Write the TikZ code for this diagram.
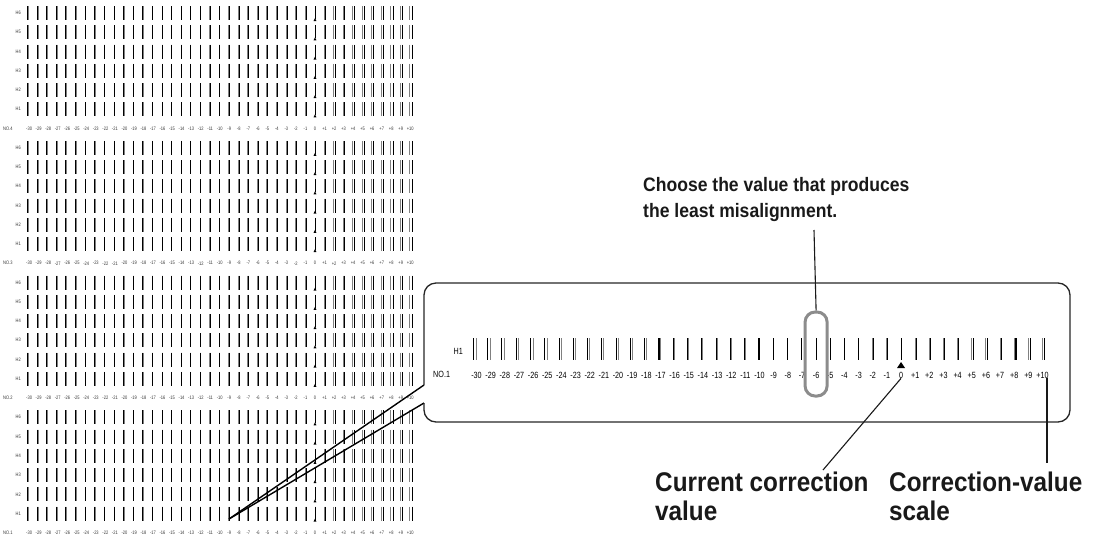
\documentclass[tikz,border=0pt]{standalone}
\usepackage{fontspec}
\setmainfont{Liberation Sans}
\newfontfamily\narrowsans[FakeStretch=0.8]{Liberation Sans}
\newfontfamily\semisans[FakeStretch=0.9]{Liberation Sans}
\usetikzlibrary{calc}

\tikzset{
  tinytxt/.style={font=\narrowsans\fontsize{5}{5}\selectfont, inner sep=0pt, text=black!80},
  boxtxt/.style={font=\narrowsans\fontsize{9}{9}\selectfont, inner sep=0pt},
  refbar/.style={black!50, line width=0.8pt},
  inkbar/.style={black, line width=1pt},
  boxline/.style={black!85, line width=1.3pt},
  wedge/.style={black, line width=1.4pt},
  callout/.style={black!90, line width=1.1pt},
  hilite/.style={draw=black!45, line width=3pt, rounded corners=10pt,
    minimum width=22pt, minimum height=84pt, inner sep=0pt},
  note/.style={font=\semisans\bfseries\fontsize{19.5}{26}\selectfont, align=left,
    inner sep=0pt, anchor=north west, text=black!90},
  bignote/.style={font=\semisans\bfseries\fontsize{27}{29}\selectfont,
    align=left, inner sep=0pt, anchor=north west, text=black!90},
}

\begin{document}
\begin{tikzpicture}[x=1pt, y=-1pt, line cap=butt]
  \useasboundingbox (0,0) rectangle (1104,539);

  % printed pattern: four blocks NO.4 .. NO.1, rows H6 .. H1
  \foreach \b/\no in {0/4,1/3,2/2,3/1} {
    \pgfmathsetmacro\ylab{13+19.25*(7*\b+6)}
    \node[tinytxt, anchor=west] (no\no) at (3,\ylab) {NO.\no};
    \foreach \r/\h in {0/6,1/5,2/4,3/3,4/2,5/1} {
      \pgfmathsetmacro\yy{13+19.25*(7*\b+\r)}
      \node[tinytxt, anchor=east] (h\no\h) at (21,\yy) {H\h};
      \foreach \k in {-30,...,10} {
        \pgfmathsetmacro\xx{315+9.53*\k}
        \pgfmathsetmacro\dd{0.09*(\k+6)}
        \ifnum\k=0
          \draw[black, line width=0.7pt] (\xx,\yy-7) -- (\xx,\yy+6);
          \fill (\xx,\yy+5) -- (\xx-1.4,\yy+8) -- (\xx+1.4,\yy+8) -- cycle;
        \else
          \draw[refbar] (\xx-0.5,\yy-7) -- (\xx-0.5,\yy+7);
          \draw[inkbar] (\xx+0.5+\dd,\yy-7) -- (\xx+0.5+\dd,\yy+7);
        \fi
      }
    }
    \foreach \k in {-30,...,10} {
      \pgfmathsetmacro\xx{315+9.53*\k}
      \node[tinytxt] (s\no\k) at (\xx,\ylab) {\ifnum\k>0 +\fi\k};
    }
  }

  % enlarged view
  \coordinate (tip) at (229,519);
  \coordinate (gapt) at (424,385);
  \coordinate (gapb) at (424,403);
  \draw[wedge] (tip) -- (gapt);
  \draw[wedge] (tip) -- (gapb);
  \draw[boxline, rounded corners=12pt] (gapt) -- (424,283) -- (1070,283)
    -- (1070,422) -- (424,422) -- (gapb);

  \node[boxtxt, anchor=east] (hbox) at (463,351) {H1};
  \node[boxtxt, anchor=west] (nobox) at (433,374) {NO.1};
  \foreach \k in {-30,...,10} {
    \pgfmathsetmacro\xx{901+14.15*\k}
    \pgfmathsetmacro\dd{0.13*(\k+6)}
    \draw[refbar, line width=1pt] (\xx,338) -- (\xx,360);
    \draw[inkbar, line width=1.1pt] (\xx+\dd,338) -- (\xx+\dd,360);
    \node[boxtxt] (b\k) at (\xx,375) {\ifnum\k>0 +\fi\k};
  }
  \fill (901,362) -- (897,368) -- (905,368) -- cycle;

  \node[hilite] (hl) at (b-6 |- 0,354) {};

  % notes
  \node[note] (choose) at (643,177) {Choose the value that produces\\the least misalignment.};
  \node[bignote] (current) at (655,472) {Current correction\\value};
  \node[bignote] (scale) at (889,472) {Correction-value\\scale};

  \coordinate (chsend) at (814,230);
  \coordinate (curend) at (823,470);
  \coordinate (sclend) at (1047,463);
  \draw[callout] (chsend) -- (hl.north);
  \draw[callout] (b0.south) -- (curend);
  \draw[callout] (b10.south -| sclend) -- (sclend);
\end{tikzpicture}
\end{document}
